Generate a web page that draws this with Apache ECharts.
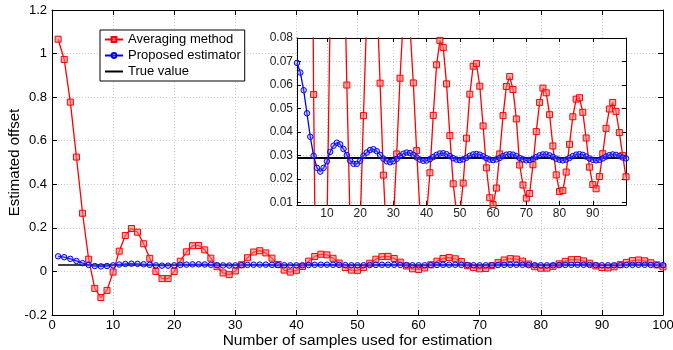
<!DOCTYPE html>
<html><head><meta charset="utf-8">
<script src="https://cdn.jsdelivr.net/npm/echarts@6/dist/echarts.min.js"></script>
<style>html,body{margin:0;padding:0;background:#fff}#c{width:673px;height:350px}</style>
</head><body><div id="c"></div>
<script>
// Sample numbers 1..100 (x positions of samples)
const sampleNumbers = Array.from({length: 100}, (_, i) => i + 1);

const averagingMethod = [
  1.066, 0.973, 0.777, 0.525, 0.267, 0.056, -0.078, -0.120, -0.087, -0.003,
  0.093, 0.165, 0.197, 0.180, 0.127, 0.060, 0.000, -0.033, -0.033, 0.000,
  0.047, 0.090, 0.118, 0.119, 0.099, 0.0608, 0.0217, -0.007, -0.015, 0.002,
  0.0307, 0.0629, 0.089, 0.095, 0.085, 0.0609, 0.0321, 0.006, -0.003, 0.005,
  0.0227, 0.0471, 0.0686, 0.079, 0.076, 0.0605, 0.0385, 0.018, 0.006, 0.005,
  0.0183, 0.0374, 0.0561, 0.068, 0.0691, 0.0595, 0.0426, 0.0248, 0.0121, 0.0092,
  0.0162, 0.0307, 0.047, 0.0594, 0.0636, 0.0581, 0.0456, 0.026, 0.0175, 0.0119,
  0.0139, 0.0261, 0.0402, 0.0526, 0.0587, 0.0567, 0.0474, 0.0341, 0.0218, 0.0147,
  0.0152, 0.023, 0.0348, 0.0465, 0.054, 0.0546, 0.0484, 0.0375, 0.0251, 0.0177,
  0.0159, 0.0211, 0.0308, 0.0416, 0.0498, 0.0526, 0.0488, 0.0398, 0.030, 0.021
];

const proposedEstimator = [
  0.0694, 0.0653, 0.0578, 0.0480, 0.0380, 0.0299, 0.0248, 0.0232, 0.0248, 0.0276,
  0.0316, 0.0342, 0.0355, 0.0348, 0.0328, 0.0302, 0.0278, 0.0265, 0.0265, 0.0278,
  0.0299, 0.0313, 0.0324, 0.0327, 0.0319, 0.0303, 0.0287, 0.0276, 0.0272, 0.0276,
  0.0286, 0.0298, 0.0308, 0.0313, 0.0311, 0.0303, 0.0292, 0.0283, 0.0278, 0.0279,
  0.0285, 0.0294, 0.0303, 0.0309, 0.0310, 0.0306, 0.0298, 0.0289, 0.0283, 0.0281,
  0.0284, 0.0291, 0.0299, 0.0305, 0.0307, 0.0304, 0.0297, 0.0289, 0.0283, 0.0281,
  0.0284, 0.0290, 0.0298, 0.0304, 0.0306, 0.0304, 0.0298, 0.0290, 0.0284, 0.0280,
  0.0281, 0.0286, 0.0294, 0.0301, 0.0305, 0.0305, 0.0301, 0.0294, 0.0287, 0.0282,
  0.0280, 0.0283, 0.0290, 0.0298, 0.0304, 0.0306, 0.0303, 0.0296, 0.0288, 0.0282,
  0.0280, 0.0282, 0.0288, 0.0296, 0.0302, 0.0305, 0.0303, 0.0298, 0.0292, 0.0288
];

const trueValue = 0.029;
const trueRange = [1, 100];

const mainXRange = [0, 100];
const mainYRange = [-0.2, 1.2];
const insetXRange = [1, 100];
const insetYRange = [0.009, 0.08];
const insetXTicks = [10, 20, 30, 40, 50, 60, 70, 80, 90];
const insetYTicks = [0.01, 0.02, 0.03, 0.04, 0.05, 0.06, 0.07, 0.08];

const seriesNames = ['Averaging method', 'Proposed estimator', 'True value'];
const xTitle = 'Number of samples used for estimation';
const yTitle = 'Estimated offset';

const FONT = '"Liberation Sans", Arial, Helvetica, sans-serif';
const pair = (ys) => sampleNumbers.map((x, i) => [x, ys[i]]);
const trueLine = trueRange.map(x => [x, trueValue]);

const dotted = {show: true, lineStyle: {color: '#c8c8c8', type: [1, 2], width: 1}};
const axLine = {show: true, onZero: false, lineStyle: {color: '#000', width: 1}};

function mkSeries(grid, zBase, blackWidth) {
  return [
    {name: seriesNames[0], type: 'line', xAxisIndex: grid * 2, yAxisIndex: grid * 2, data: pair(averagingMethod),
     symbol: 'rect', symbolSize: 6, z: zBase + 1, clip: true,
     lineStyle: {color: '#ff0000', width: 1.3}, itemStyle: {color: 'rgba(255,120,120,0.6)', borderColor: '#ff0000', borderWidth: 1}},
    {name: seriesNames[1], type: 'line', xAxisIndex: grid * 2, yAxisIndex: grid * 2, data: pair(proposedEstimator),
     symbol: 'circle', symbolSize: 5.5, z: zBase + 2, clip: true,
     lineStyle: {color: '#0000ff', width: 1.3}, itemStyle: {color: 'rgba(120,120,255,0.35)', borderColor: '#0000ff', borderWidth: 1}},
    {name: seriesNames[2], type: 'line', xAxisIndex: grid * 2, yAxisIndex: grid * 2, data: trueLine,
     symbol: 'none', z: zBase, clip: true, lineStyle: {color: '#000', width: blackWidth}, itemStyle: {color: '#000'}}
  ];
}

const chart = echarts.init(document.getElementById('c'), null, {renderer: 'canvas'});
chart.setOption({
  animation: false,
  backgroundColor: '#fff',
  textStyle: {fontFamily: FONT},
  grid: [
    {left: 52, right: 10, top: 10, bottom: 35, show: false, containLabel: false, outerBoundsMode: 'none'},
    {left: 297, top: 38, width: 329, height: 167, show: true, backgroundColor: '#fff', borderWidth: 0, z: 10,
     containLabel: false, outerBoundsMode: 'none'}
  ],
  legend: {
    orient: 'vertical', left: 100, top: 30, z: 30,
    data: [seriesNames[0], seriesNames[1], {name: seriesNames[2], itemStyle: {opacity: 0}}],
    backgroundColor: '#fff', borderColor: '#000', borderWidth: 1,
    padding: [3, 4, 3, 4], itemGap: 3, itemWidth: 18, itemHeight: 6,
    textStyle: {fontFamily: FONT, fontSize: 13, color: '#000'}
  },
  xAxis: [
    {type: 'value', gridIndex: 0, min: mainXRange[0], max: mainXRange[1], interval: 10, position: 'bottom',
     name: xTitle, nameLocation: 'middle', nameGap: 18, nameMoveOverlap: false,
     nameTextStyle: {fontFamily: FONT, fontSize: 15.5, color: '#000'},
     axisLine: axLine, axisTick: {inside: true, length: 5, lineStyle: {color: '#000'}},
     axisLabel: {fontFamily: FONT, fontSize: 13, color: '#000', margin: 4}, splitLine: dotted},
    {type: 'value', gridIndex: 0, min: mainXRange[0], max: mainXRange[1], interval: 10, position: 'top',
     axisLine: axLine, axisTick: {inside: true, length: 5, lineStyle: {color: '#000'}},
     axisLabel: {show: false}, splitLine: {show: false}},
    {type: 'value', gridIndex: 1, min: insetXRange[0], max: insetXRange[1], position: 'bottom', z: 11,
     axisLine: axLine, axisTick: {inside: true, length: 4, customValues: insetXTicks, lineStyle: {color: '#000'}},
     axisLabel: {fontFamily: FONT, fontSize: 12, color: '#222', margin: 3, customValues: insetXTicks}, splitLine: dotted},
    {type: 'value', gridIndex: 1, min: insetXRange[0], max: insetXRange[1], position: 'top', z: 11,
     axisLine: axLine, axisTick: {inside: true, length: 4, customValues: insetXTicks, lineStyle: {color: '#000'}},
     axisLabel: {show: false}, splitLine: {show: false}}
  ],
  yAxis: [
    {type: 'value', gridIndex: 0, min: mainYRange[0], max: mainYRange[1], interval: 0.2, position: 'left',
     name: yTitle, nameLocation: 'middle', nameGap: 30, nameMoveOverlap: false,
     nameTextStyle: {fontFamily: FONT, fontSize: 15, color: '#000'},
     axisLine: axLine, axisTick: {inside: true, length: 5, lineStyle: {color: '#000'}},
     axisLabel: {fontFamily: FONT, fontSize: 13, color: '#000', margin: 5}, splitLine: dotted},
    {type: 'value', gridIndex: 0, min: mainYRange[0], max: mainYRange[1], interval: 0.2, position: 'right',
     axisLine: axLine, axisTick: {inside: true, length: 5, lineStyle: {color: '#000'}},
     axisLabel: {show: false}, splitLine: {show: false}},
    {type: 'value', gridIndex: 1, min: insetYRange[0], max: insetYRange[1], position: 'left', z: 11,
     axisLine: axLine, axisTick: {inside: true, length: 4, customValues: insetYTicks, lineStyle: {color: '#000'}},
     axisLabel: {fontFamily: FONT, fontSize: 12, color: '#222', margin: 4, customValues: insetYTicks,
                 formatter: v => v.toFixed(2)}, splitLine: dotted},
    {type: 'value', gridIndex: 1, min: insetYRange[0], max: insetYRange[1], position: 'right', z: 11,
     axisLine: axLine, axisTick: {inside: true, length: 4, customValues: insetYTicks, lineStyle: {color: '#000'}},
     axisLabel: {show: false}, splitLine: {show: false}}
  ],
  series: [].concat(mkSeries(0, 2, 1.5), mkSeries(1, 12, 2))
});
</script>
</body></html>
